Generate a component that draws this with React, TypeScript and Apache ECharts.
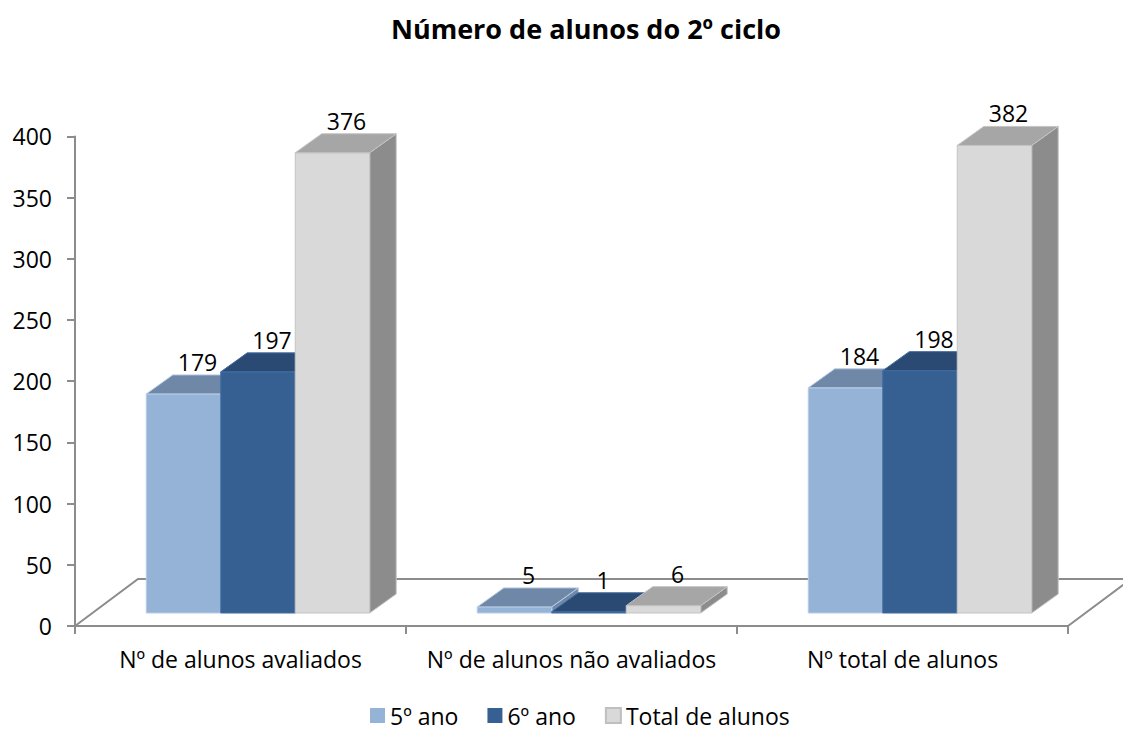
import React, { useEffect, useRef } from "react";
import * as echarts from "echarts";

const categories = ["Nº de alunos avaliados", "Nº de alunos não avaliados", "Nº total de alunos"];
const seriesNames = ["5º ano", "6º ano", "Total de alunos"];
const ano5 = [179, 5, 184];
const ano6 = [197, 1, 198];
const totalAlunos = [376, 6, 382];
const yMin = 0;
const yMax = 400;
const yInterval = 50;

const FONT = "'Open Sans', Lato, sans-serif";

// 3D projection constants (pixels)
const OFF_X = 17.5; // bar front shift from floor front
const OFF_Y = 13;
const DX = 26.5; // bar depth
const DY = 19;
const FLOOR_DX = 63;
const FLOOR_DY = 47;

type Palette = { front: string; top: string; side: string; stroke: string };
const palettes: Palette[] = [
  { front: "#95B3D7", top: "#6F88A8", side: "#6F88A8", stroke: "#B9CDE5" },
  { front: "#376092", top: "#2B4A73", side: "#2B4A73", stroke: "#3F6CA3" },
  { front: "#D9D9D9", top: "#A6A6A6", side: "#8C8C8C", stroke: "#C4C4C4" },
];

function makeRender(si: number) {
  const p = palettes[si];
  return (_params: any, api: any) => {
    const cat = api.value(0);
    const v = api.value(1);
    const base = api.coord([cat, 0]);
    const topPt = api.coord([cat, v]);
    const band = api.size([1, 0])[0];
    const bw = band * 0.225;
    const x0 = base[0] - 1.5 * bw + si * bw + OFF_X;
    const x1 = x0 + bw;
    const yb = base[1] - OFF_Y;
    const yt = topPt[1] - OFF_Y;
    return {
      type: "group",
      children: [
        {
          type: "polygon",
          shape: { points: [[x1, yt], [x1 + DX, yt - DY], [x1 + DX, yb - DY], [x1, yb]] },
          style: { fill: p.side, stroke: p.stroke, lineWidth: 1 },
        },
        {
          type: "rect",
          shape: { x: x0, y: yt, width: bw, height: yb - yt },
          style: { fill: p.front, stroke: p.stroke, lineWidth: 1 },
        },
        {
          type: "polygon",
          shape: { points: [[x0, yt], [x0 + DX, yt - DY], [x1 + DX, yt - DY], [x1, yt]] },
          style: { fill: p.top, stroke: p.stroke, lineWidth: 1 },
        },
        {
          type: "text",
          x: x0 + bw / 2 + 14,
          y: yt - DY - 13,
          style: {
            text: String(v),
            align: "center",
            verticalAlign: "middle",
            fill: "#000",
            font: `23px ${FONT}`,
          },
        },
      ],
    };
  };
}

function renderFloor(_params: any, api: any) {
  const c0 = api.coord([0, 0]);
  const band = api.size([1, 0])[0];
  const left = c0[0] - band / 2;
  const right = left + band * categories.length;
  const y0 = c0[1];
  return {
    type: "polyline",
    shape: {
      points: [
        [left, y0],
        [left + FLOOR_DX, y0 - FLOOR_DY],
        [right + FLOOR_DX, y0 - FLOOR_DY],
        [right, y0],
      ],
    },
    style: { stroke: "#8C8C8C", lineWidth: 2, fill: "none" },
    silent: true,
  };
}

export default function App() {
  const ref = useRef<HTMLDivElement>(null);
  useEffect(() => {
    if (!ref.current) return;
    const chart = echarts.init(ref.current, null, { renderer: "svg" });
    const datasets = [ano5, ano6, totalAlunos];
    chart.setOption({
      animation: false,
      backgroundColor: "#ffffff",
      title: {
        text: "Número de alunos do 2º ciclo",
        left: 581,
        textAlign: "center",
        top: 10,
        textStyle: { fontFamily: FONT, fontSize: 27, fontWeight: "bold", color: "#000" },
      },
      legend: {
        data: seriesNames,
        top: 699,
        left: 365,
        icon: "rect",
        itemWidth: 15,
        itemHeight: 15,
        itemGap: 29,
        textStyle: { fontFamily: FONT, fontSize: 23, color: "#000" },
      },
      grid: { left: 75, right: 55, top: 626 - 489.6, bottom: 731 - 626, containLabel: false },
      xAxis: {
        type: "category",
        data: categories,
        axisLine: { lineStyle: { color: "#8C8C8C", width: 2 } },
        axisTick: { show: true, length: 8, lineStyle: { color: "#8C8C8C", width: 2 } },
        axisLabel: { fontFamily: FONT, fontSize: 23, color: "#000", margin: 21, interval: 0 },
        splitLine: { show: false },
      },
      yAxis: {
        type: "value",
        min: yMin,
        max: yMax,
        interval: yInterval,
        axisLine: { show: true, lineStyle: { color: "#8C8C8C", width: 2 } },
        axisTick: { show: true, length: 8, lineStyle: { color: "#8C8C8C", width: 2 } },
        axisLabel: { fontFamily: FONT, fontSize: 23, color: "#000", margin: 23 },
        splitLine: { show: false },
      },
      series: [
        {
          type: "custom",
          name: "floor",
          renderItem: renderFloor,
          data: [[0, 0]],
          silent: true,
          z: 1,
          clip: false,
        },
        ...datasets.map((d, si) => ({
          type: "custom",
          name: seriesNames[si],
          renderItem: makeRender(si),
          data: d.map((v, i) => [i, v]),
          encode: { x: 0, y: 1 },
          itemStyle: {
            color: palettes[si].front,
            borderColor: si === 2 ? "#BFBFBF" : palettes[si].front,
            borderWidth: si === 2 ? 1 : 0,
          },
          z: 2 + si,
          clip: false,
        })),
      ],
    });
    return () => chart.dispose();
  }, []);
  return (
    <div
      ref={ref}
      style={{ position: "absolute", left: 0, top: 0, width: 1123, height: 731 }}
    />
  );
}
